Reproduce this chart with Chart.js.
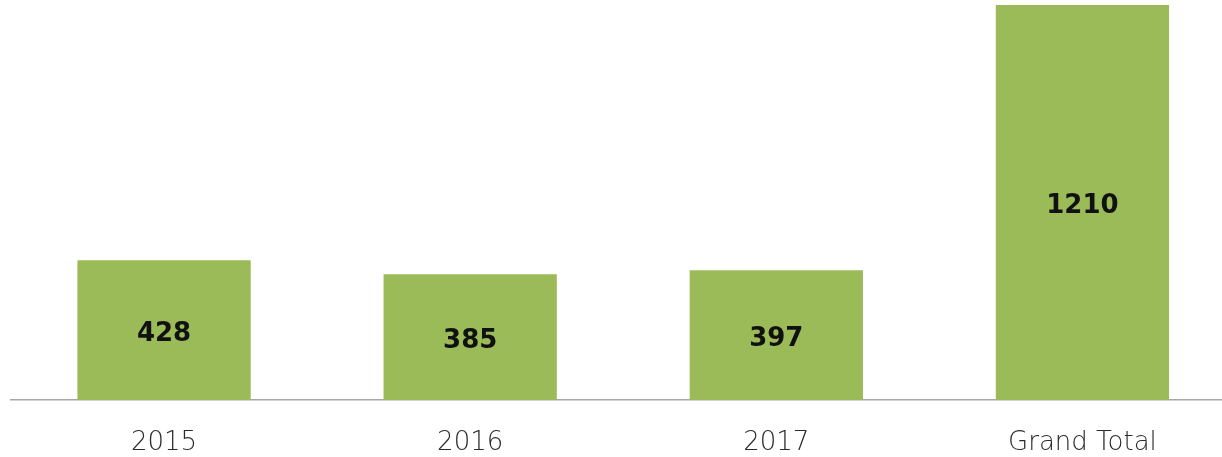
<!DOCTYPE html>
<html>
<head>
<meta charset="utf-8">
<script src="https://cdn.jsdelivr.net/npm/chart.js@4/dist/chart.umd.min.js"></script>
<style>
    html, body { margin: 0; padding: 0; background: #fff; overflow: hidden; }
    #wrap { position: absolute; left: 0; top: 0; width: 1240px; height: 457px; }
</style>
</head>
<body>
<div id="wrap"><canvas id="chart"></canvas></div>
<script>
// Данные графика
const categories = ['2015', '2016', '2017', 'Grand Total'];
const values = [428, 385, 397, 1210];

// Подписи значений по центру столбцов
const barLabels = {
    id: 'barLabels',
    afterDatasetsDraw(chart) {
        const ctx = chart.ctx;
        const meta = chart.getDatasetMeta(0);
        ctx.save();
        ctx.font = 'bold 26px "DejaVu Sans", sans-serif';
        ctx.fillStyle = '#111';
        ctx.textAlign = 'center';
        ctx.textBaseline = 'middle';
        meta.data.forEach((bar, i) => {
            const mid = (bar.y + bar.base) / 2;
            ctx.fillText(String(values[i]), bar.x, mid + 4);
        });
        ctx.restore();
    }
};

new Chart(document.getElementById('chart'), {
    type: 'bar',
    data: {
        labels: categories,
        datasets: [{
            data: values,
            backgroundColor: '#9bbb59',
            borderWidth: 0,
            categoryPercentage: 1,
            barPercentage: 0.566,
        }]
    },
    options: {
        responsive: true,
        maintainAspectRatio: false,
        animation: false,
        layout: {
            padding: { left: 11, right: 4.5, top: 0, bottom: 0 }
        },
        plugins: {
            legend: { display: false },
            tooltip: { enabled: false },
        },
        scales: {
            x: {
                grid: { display: false },
                border: { display: true, color: '#a6a6a6', width: 1.5 },
                ticks: {
                    color: '#2a2a2a',
                    padding: 20,
                    font: { family: '"DejaVu Sans", sans-serif', size: 26, weight: 200 },
                },
                afterFit: (scale) => { scale.height = 57; },
            },
            y: {
                display: false,
                min: 0,
                max: 1225,
            }
        }
    },
    plugins: [barLabels]
});
</script>
</body>
</html>
